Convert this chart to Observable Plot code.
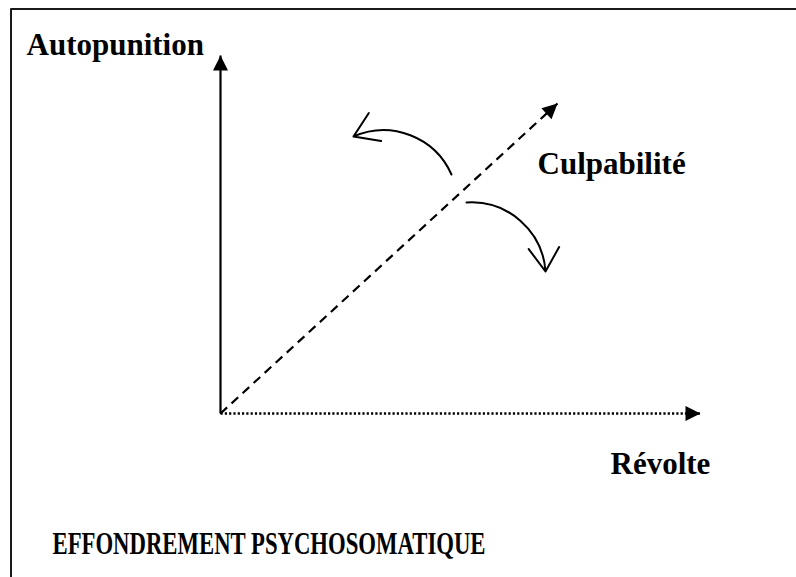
<!DOCTYPE html>
<html><head><meta charset="utf-8">
<script src="https://cdn.jsdelivr.net/npm/d3@7"></script>
<script src="https://cdn.jsdelivr.net/npm/@observablehq/plot@0.6"></script>
<style>html,body{margin:0;padding:0;background:#fff;} #chart{width:796px;height:577px;overflow:hidden}</style>
</head><body><div id="chart"></div>
<script>
// Diagram coordinates: origin where the two axes meet, y upward (1 unit ≈ 1 px)
const axisNames = ["Autopunition", "Révolte", "Culpabilité"];
const axisEndX = [0, 480, 337];
const axisEndY = [358, 0, 310];

// curved shift arrows leaving the "Culpabilité" axis
const shiftNames = ["vers l'autopunition", "vers la révolte"];
const shiftStartX = [231, 246];
const shiftStartY = [239, 211];
const shiftEndX = [133, 325];
const shiftEndY = [277, 142];
const shiftBend = [-45, 45];

// axis labels
const labelTexts = ["Autopunition", "Culpabilité", "Révolte"];
const labelX = [-194, 317, 390];
const labelY = [359, 240, -60];

// caption
const titleText = ["EFFONDREMENT PSYCHOSOMATIQUE"];
const titleX = [-168];
const titleY = [-140];

// page frame (top and left borders)
const frameX1 = [-210, -209.5];
const frameY1 = [404.5, 405];
const frameX2 = [576, -209.5];
const frameY2 = [404.5, -164];

const idx = n => d3.range(n);
const font = "'Liberation Serif', 'Times New Roman', serif";

const headSymbol = {
  draw(context, size) {
    const s = Math.sqrt(size / Math.PI);
    context.moveTo(0, 0);
    context.lineTo(-s, 2 * s);
    context.lineTo(s, 2 * s);
    context.closePath();
  }
};

const axisStyles = [
  {strokeDasharray: null, strokeWidth: 2.2},
  {strokeDasharray: "2.2,2.1", strokeWidth: 2.4},
  {strokeDasharray: "9,6", strokeWidth: 2.2}
];

const marks = [
  Plot.link(idx(2), {
    x1: i => frameX1[i], y1: i => frameY1[i], x2: i => frameX2[i], y2: i => frameY2[i],
    stroke: "#1a1a1a", strokeWidth: 2
  }),
  ...axisStyles.map((st, k) => Plot.link([k], {
    x1: () => 0, y1: () => 0, x2: i => axisEndX[i], y2: i => axisEndY[i],
    stroke: "black", strokeWidth: st.strokeWidth,
    ...(st.strokeDasharray ? {strokeDasharray: st.strokeDasharray} : {})
  })),
  Plot.dot(idx(3), {
    x: i => axisEndX[i], y: i => axisEndY[i],
    symbol: headSymbol, r: 7.5, fill: "black", stroke: "none",
    rotate: i => Math.atan2(axisEndX[i], axisEndY[i]) * 180 / Math.PI
  }),
  ...shiftBend.map((b, k) => Plot.arrow([k], {
    x1: i => shiftStartX[i], y1: i => shiftStartY[i],
    x2: i => shiftEndX[i], y2: i => shiftEndY[i],
    bend: b, stroke: "black", strokeWidth: 2, headLength: 21, headAngle: 66
  })),
  Plot.text(idx(3), {
    x: i => labelX[i], y: i => labelY[i], text: i => labelTexts[i],
    textAnchor: "start", lineAnchor: "bottom",
    fontFamily: font, fontWeight: "bold", fontSize: 31, fill: "black"
  }),
  Plot.text(idx(1), {
    x: i => titleX[i], y: i => titleY[i], text: i => titleText[i],
    textAnchor: "start", lineAnchor: "bottom",
    fontFamily: font, fontWeight: "bold", fontSize: 31, fill: "black"
  })
];

const chart = Plot.plot({
  width: 796, height: 577,
  marginTop: 0, marginRight: 0, marginBottom: 0, marginLeft: 0,
  x: {domain: [-220, 576], range: [0, 796], axis: null},
  y: {domain: [-164, 413], range: [577, 0], axis: null},
  style: {background: "white"},
  marks
});

// condense the caption horizontally as in the reference
d3.select(chart).selectAll("text")
  .filter(function () { return this.textContent === titleText[0]; })
  .attr("textLength", 433).attr("lengthAdjust", "spacingAndGlyphs");

document.getElementById("chart").appendChild(chart);
</script>
</body></html>
